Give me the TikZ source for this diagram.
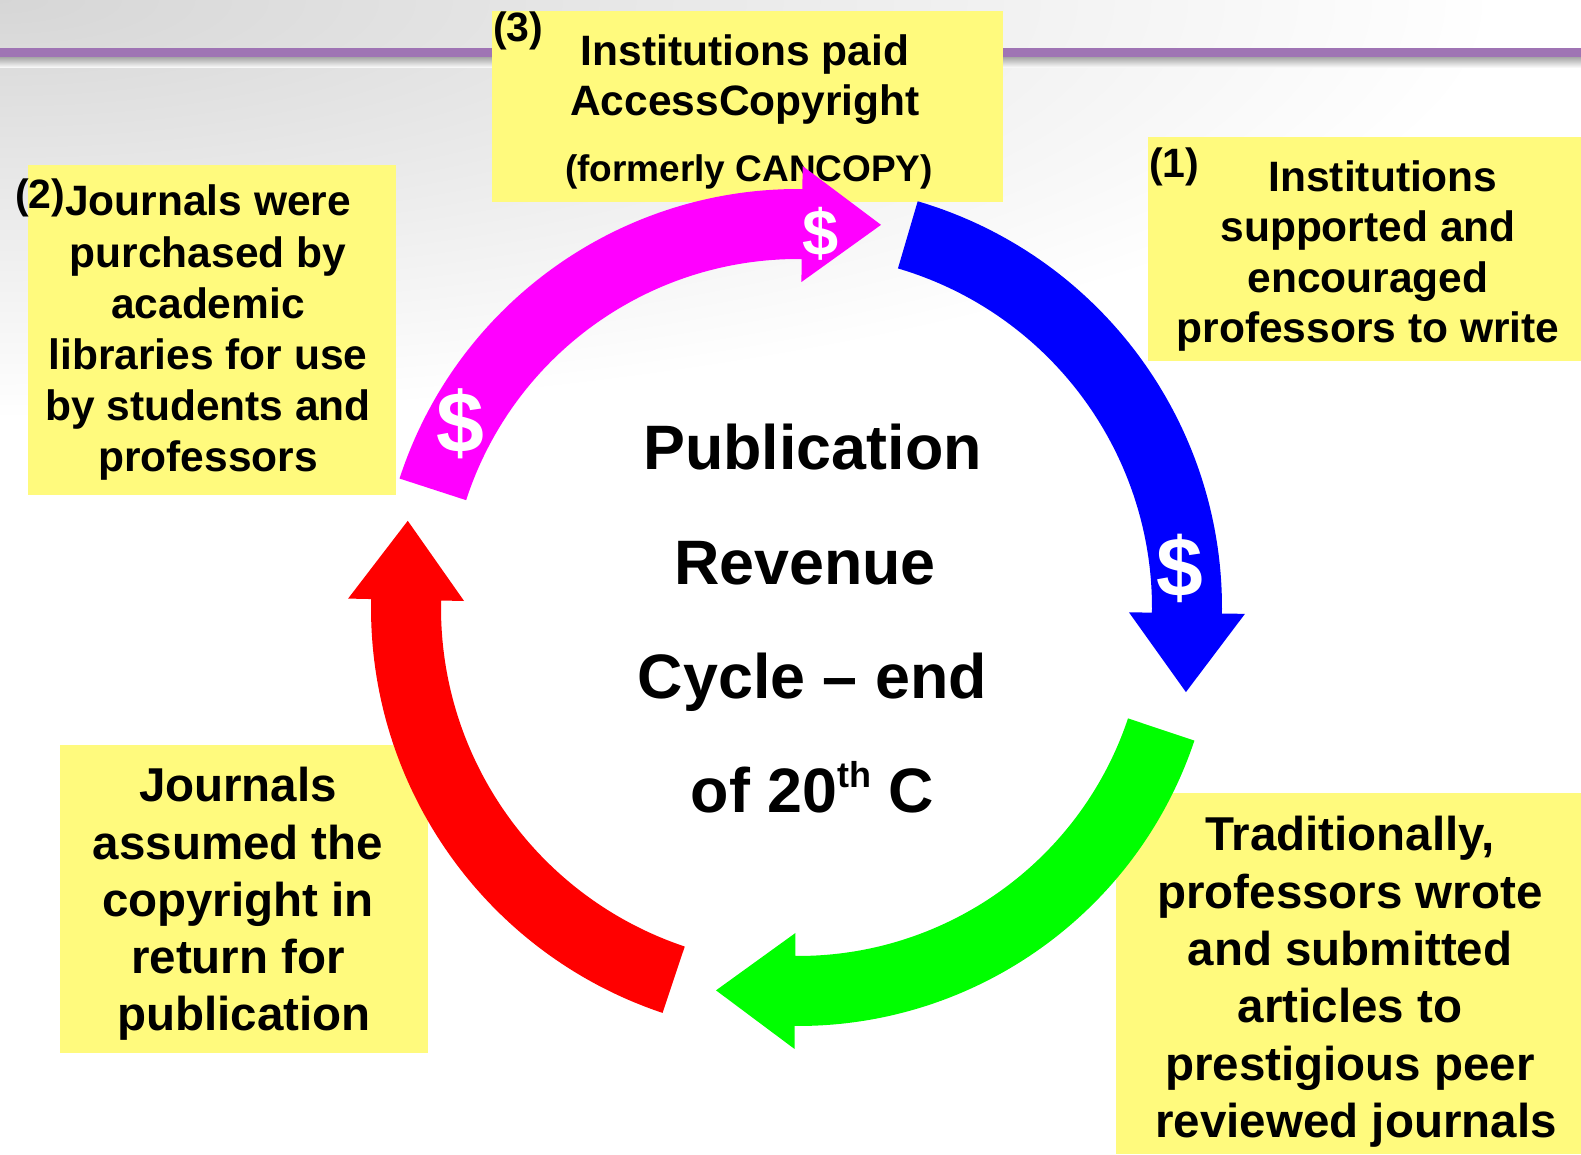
\documentclass[tikz,border=0pt]{standalone}
\usepackage{fontspec}
\setmainfont{Liberation Sans}
\definecolor{boxyellow}{RGB}{255,250,125}
\definecolor{lineviolet}{RGB}{159,116,180}
\definecolor{cblue}{RGB}{0,0,255}
\definecolor{cgreen}{RGB}{0,255,0}
\definecolor{cred}{RGB}{255,0,0}
\definecolor{cmagenta}{RGB}{255,0,255}
\newcommand{\setfs}[2]{\fontsize{#1}{#2}\selectfont}
% #1 colour, #2 rotation of the head base, #3 centre-line radius, #4 angular span to the tail
\newcommand{\cyclearrow}[4]{%
  \pgfmathsetmacro{\rout}{#3+35}%
  \pgfmathsetmacro{\rin}{#3-35}%
  \pgfmathsetmacro{\hout}{#3+58}%
  \pgfmathsetmacro{\hin}{#3-58}%
  \begin{scope}[shift={(798,546)},rotate=#2]
    \fill[#1] (#4:\rout pt) arc[start angle=#4,end angle=0,radius=\rout pt]
      -- (\hout pt,0pt) -- (#3pt,-79pt) -- (\hin pt,0pt) -- (\rin pt,0pt)
      arc[start angle=0,end angle=#4,radius=\rin pt] -- cycle;
  \end{scope}}
\tikzset{
  ybox/.style={fill=boxyellow, draw=none, inner sep=0pt, anchor=south west},
  btext/.style={inner sep=0pt, align=center, anchor=north, text=black},
  numlabel/.style={inner sep=0pt, anchor=base west, font=\bfseries\setfs{41}{41}},
  dollar/.style={text=white, inner sep=0pt, font=\bfseries\setfs{#1}{#1}},
}
\begin{document}
\begin{tikzpicture}[x=1pt,y=1pt]
\useasboundingbox (0,0) rectangle (1581,1154);
\fill[white] (0,0) rectangle (1581,1154);
\begin{scope}
  \clip (0,0) rectangle (1581,1154);
  \shade[inner color=black!16, outer color=white] (0,1154) ellipse [x radius=1500pt, y radius=420pt];
\end{scope}
\shade[top color=black!35, bottom color=white] (0,1086) rectangle (1581,1097);
\fill[lineviolet] (0,1097) rectangle (1581,1106);

% yellow boxes
\node[ybox, minimum width=511pt, minimum height=191pt] (b3) at (492,952) {};
\node[ybox, minimum width=433pt, minimum height=224pt] (b1) at (1148,793) {};
\node[ybox, minimum width=368pt, minimum height=330pt] (b2) at (28,659) {};
\node[ybox, minimum width=368pt, minimum height=308pt] (b4) at (60,101) {};
\node[ybox, minimum width=465pt, minimum height=361pt] (b5) at (1116,0) {};

% texts
\node[btext, font=\bfseries\setfs{42.5}{50.5}] (t3) at (745,1119.5) {Institutions paid\\AccessCopyright};
\node[inner sep=0pt, anchor=base, font=\bfseries\setfs{37}{37}] (t3b) at (749,972.5) {(formerly CANCOPY)};
\node[numlabel] (n3) at (493,1112) {(3)};

\node[btext, font=\bfseries\setfs{42.5}{50.4}] (t1) at (1368,993.5) {\hspace*{30pt}Institutions\\supported and\\encouraged\\professors to write};
\node[numlabel] (n1) at (1149,976) {(1)};

\node[btext, font=\bfseries\setfs{42.5}{51.2}] (t2) at (208,969) {Journals were\\purchased by\\academic\\libraries for use\\by students and\\professors};
\node[numlabel] (n2) at (15,945) {(2)};

\node[btext, font=\bfseries\setfs{47.5}{57.2}] (t4) at (238,386.7) {Journals\\assumed the\\copyright in\\return for\\\hspace*{12pt}publication};

\node[btext, font=\bfseries\setfs{47.5}{57.3}] (t5) at (1350,337.7) {Traditionally,\\professors wrote\\and submitted\\articles to\\prestigious peer\\\hspace*{12pt}reviewed journals};

\node[btext, font=\bfseries\setfs{62.8}{114.3}] (title) at (812.5,730) {Publication\\Revenue\hbox to 15pt{}\\Cycle – end\\of 20\raisebox{25pt}{\setfs{36}{36}th} C};

% cycle arrows
\cyclearrow{cblue}{-0.75}{389}{74.35}
\cyclearrow{cgreen}{-90.45}{383}{71.95}
\cyclearrow{cred}{178.8}{392}{72.7}
\cyclearrow{cmagenta}{89.4}{384}{72.6}

% dollar signs
\node[dollar=84] (d1) at (1180,586) {\$};
\node[dollar=65] (d2) at (821,920) {\$};
\node[dollar=86] (d3) at (460,730) {\$};
\end{tikzpicture}
\end{document}
